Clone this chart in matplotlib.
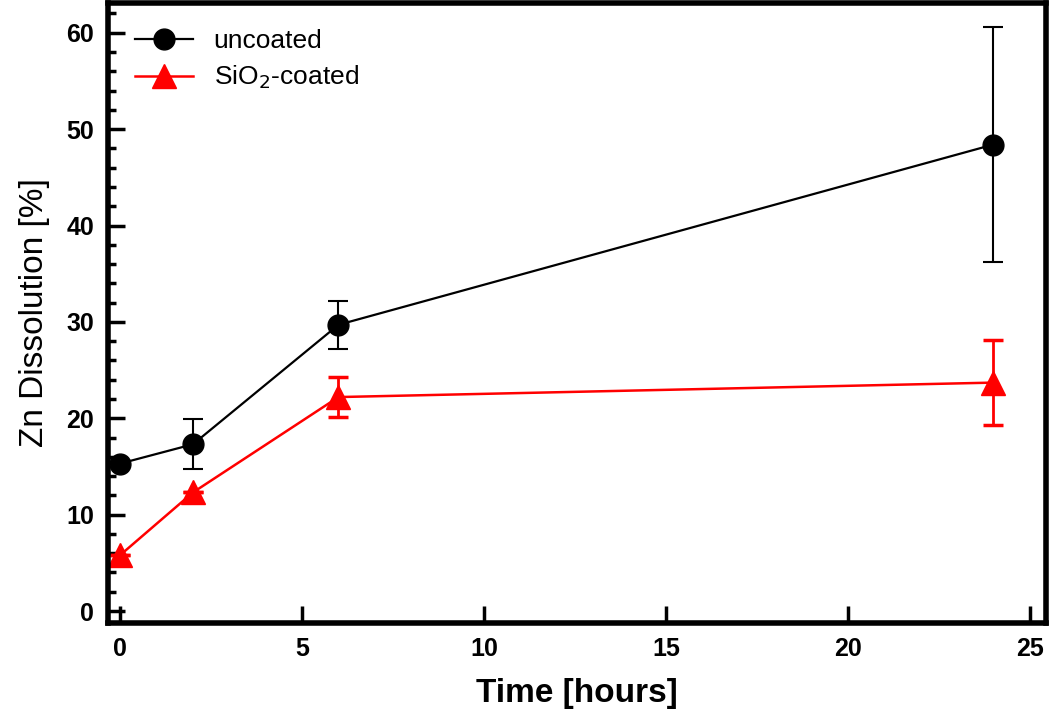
import numpy as np
import matplotlib.pyplot as plt
from matplotlib.ticker import MultipleLocator
from matplotlib.lines import Line2D

plt.rcParams['font.family'] = ['Liberation Sans', 'DejaVu Sans']

time_h = [0, 2, 6, 24]
uncoated = [15.3, 17.3, 29.7, 48.4]
uncoated_err = [0.0, 2.6, 2.5, 12.2]
coated = [5.8, 12.3, 22.2, 23.7]
coated_err = [0.0, 0.0, 2.1, 4.4]

fig = plt.figure(figsize=(10.5, 7.17), dpi=100)
ax = fig.add_axes([0.103, 0.131, 0.893, 0.865])

ax.errorbar(time_h, uncoated, yerr=uncoated_err, color='black', marker='o',
            markersize=15, lw=1.6, elinewidth=1.5, capsize=7, capthick=1.5)
ax.errorbar(time_h, coated, yerr=coated_err, color='#ff0000', marker='^',
            markersize=17, lw=1.8, elinewidth=2, capsize=7, capthick=2.5)

ax.set_xlim(-0.33, 25.44)
ax.set_ylim(-1.25, 63.1)
ax.xaxis.set_major_locator(MultipleLocator(5))
ax.yaxis.set_major_locator(MultipleLocator(10))
ax.yaxis.set_minor_locator(MultipleLocator(2))
ax.tick_params(axis='both', which='major', direction='in', length=12, width=2.5,
               labelsize=18, pad=10)
ax.tick_params(axis='y', which='minor', direction='in', length=6, width=2.5)
for lbl in ax.get_xticklabels() + ax.get_yticklabels():
    lbl.set_fontweight('bold')
for sp in ax.spines.values():
    sp.set_linewidth(4)

ax.set_xlabel('Time [hours]', fontsize=24, fontweight='bold', labelpad=12)
ax.set_ylabel('Zn Dissolution [%]', fontsize=24, labelpad=12)

handles = [Line2D([], [], color='black', marker='o', markersize=15, lw=1.6),
           Line2D([], [], color='#ff0000', marker='^', markersize=17, lw=1.8)]
ax.legend(handles, ['uncoated', 'SiO$_2$-coated'], loc='upper left', frameon=False,
          fontsize=19, bbox_to_anchor=(0.0, 1.0), handlelength=2.2,
          borderaxespad=0.6, labelspacing=0.4)

fig.savefig('out.png', dpi=100)
